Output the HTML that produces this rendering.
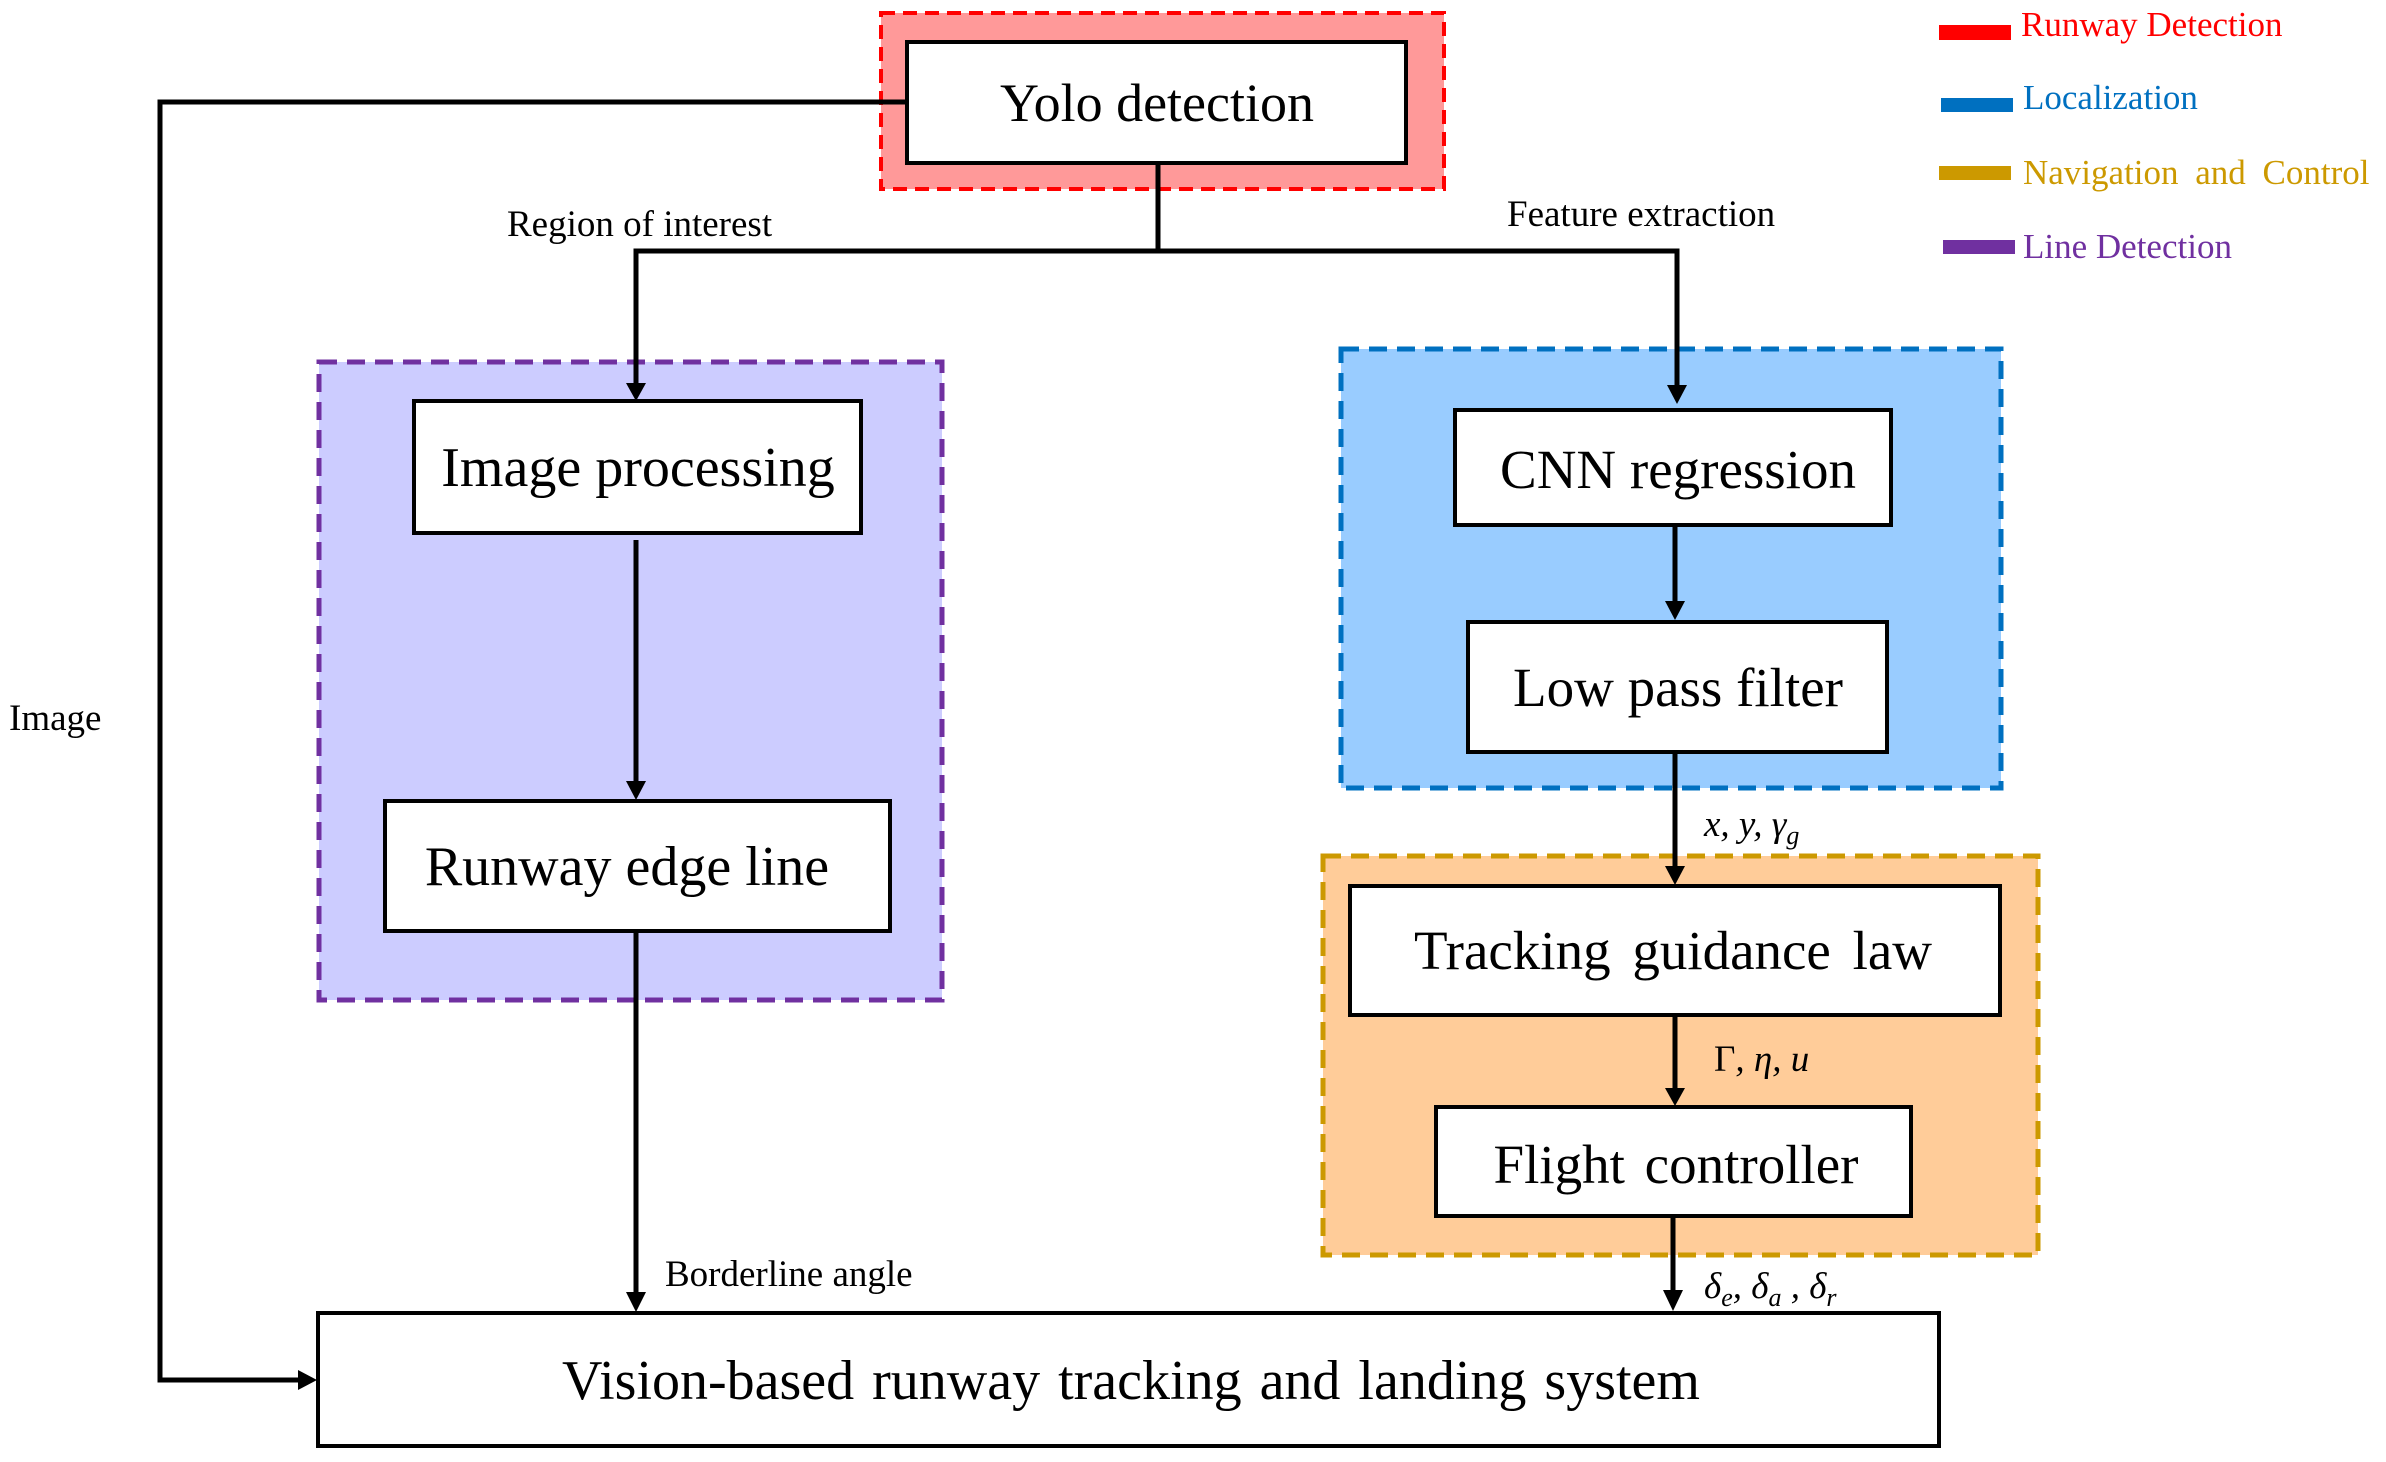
<!DOCTYPE html>
<html><head><meta charset="utf-8"><style>
html,body{margin:0;padding:0;background:#fff;}
svg{display:block;font-family:"Liberation Serif",serif;}
</style></head><body>
<svg width="2386" height="1462" viewBox="0 0 2386 1462" xmlns="http://www.w3.org/2000/svg">
<rect x="881" y="13" width="563" height="176" fill="#ff9999" stroke="#ff0000" stroke-width="4" stroke-dasharray="14,8"/>
<rect x="319" y="362" width="623" height="638" fill="#ccccff" stroke="#7030a0" stroke-width="5" stroke-dasharray="18,10"/>
<rect x="1341" y="349" width="660" height="439" fill="#99ccff" stroke="#0070c0" stroke-width="5" stroke-dasharray="18,10"/>
<rect x="1323" y="856" width="715" height="399" fill="#ffcc99" stroke="#cc9900" stroke-width="5" stroke-dasharray="18,10"/>
<g fill="#fff" stroke="#000" stroke-width="4">
<rect x="907" y="42" width="499" height="121"/>
<rect x="414" y="401" width="447" height="132"/>
<rect x="385" y="801" width="505" height="130"/>
<rect x="1455" y="410" width="436" height="115"/>
<rect x="1468" y="622" width="419" height="130"/>
<rect x="1350" y="886" width="650" height="129"/>
<rect x="1436" y="1107" width="475" height="109"/>
<rect x="318" y="1313" width="1621" height="133"/>
</g>
<g fill="none" stroke="#000" stroke-width="5">
<polyline points="907,102 160,102 160,1380 300,1380"/>
<polyline points="1158,163 1158,251"/>
<polyline points="636,385 636,251 1677,251 1677,386"/>
<line x1="636" y1="540" x2="636" y2="782"/>
<line x1="636" y1="931" x2="636" y2="1292"/>
<line x1="1675" y1="525" x2="1675" y2="602"/>
<line x1="1675" y1="752" x2="1675" y2="866"/>
<line x1="1675" y1="1015" x2="1675" y2="1090"/>
<line x1="1673" y1="1216" x2="1673" y2="1290"/>
</g>
<g fill="#000">
<polygon points="626,383 646,383 636,401"/>
<polygon points="626,781 646,781 636,800"/>
<polygon points="626,1292 646,1292 636,1312"/>
<polygon points="1667,385 1687,385 1677,404"/>
<polygon points="1665,601 1685,601 1675,620"/>
<polygon points="1665,866 1685,866 1675,885"/>
<polygon points="1665,1088 1685,1088 1675,1106"/>
<polygon points="1663,1290 1683,1290 1673,1311"/>
<polygon points="298,1370 298,1390 317,1380"/>
</g>
<g font-size="54" text-anchor="middle" fill="#000">
<text x="1157" y="121">Yolo detection</text>
<text x="638" y="486" font-size="56">Image processing</text>
<text x="627" y="885" font-size="56">Runway edge line</text>
<text x="1678" y="488" font-size="55">CNN regression</text>
<text x="1678" y="706" font-size="55">Low pass filter</text>
<text x="1673" y="969" font-size="55" word-spacing="8">Tracking  guidance  law</text>
<text x="1676" y="1183" font-size="55" word-spacing="6">Flight  controller</text>
<text x="1131" y="1399" font-size="56" word-spacing="4">Vision-based  runway  tracking and  landing  system</text>
</g>
<g font-size="37" fill="#000">
<text x="507" y="236">Region of interest</text>
<text x="1507" y="226">Feature extraction</text>
<text x="9" y="730">Image</text>
<text x="665" y="1286">Borderline angle</text>
<text x="1704" y="836" font-style="italic">x, y, γ<tspan font-size="26" dy="8">g</tspan></text>
<text x="1714" y="1071" font-style="italic"><tspan font-style="normal">Γ</tspan>, η, u</text>
<text x="1704" y="1298" font-style="italic">δ<tspan font-size="26" dy="8">e</tspan><tspan dy="-8">, δ</tspan><tspan font-size="26" dy="8">a</tspan><tspan dy="-8"> , δ</tspan><tspan font-size="26" dy="8">r</tspan></text>
</g>
<rect x="1939" y="25" width="72" height="15" fill="#ff0000"/>
<rect x="1941" y="98" width="72" height="14" fill="#0070c0"/>
<rect x="1939" y="166" width="72" height="14" fill="#cc9900"/>
<rect x="1943" y="240" width="72" height="14" fill="#7030a0"/>
<g font-size="35">
<text x="2021" y="36" fill="#ff0000">Runway Detection</text>
<text x="2023" y="109" fill="#0070c0">Localization</text>
<text x="2023" y="184" fill="#cc9900" word-spacing="8">Navigation  and  Control</text>
<text x="2023" y="258" fill="#7030a0">Line Detection</text>
</g>
</svg>
</body></html>
